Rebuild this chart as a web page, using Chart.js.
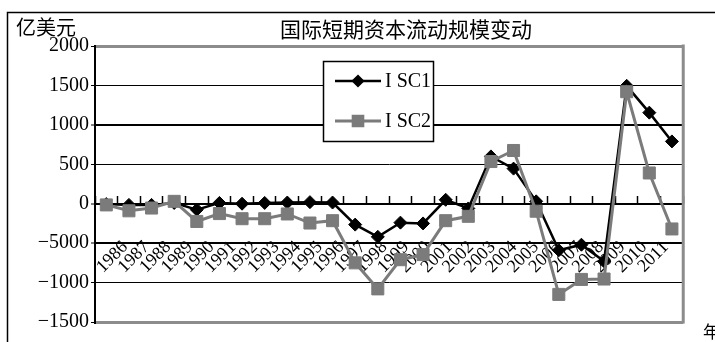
<!DOCTYPE html>
<html>
<head>
<meta charset="utf-8">
<script src="https://cdn.jsdelivr.net/npm/chart.js@4/dist/chart.umd.min.js"></script>
<style>
  html, body { margin: 0; padding: 0; background: #fff; }
  #wrap { width: 715px; height: 342px; }
</style>
</head>
<body>
<div id="wrap"><canvas id="c" width="715" height="342"></canvas></div>
<script>
// Years on the category axis
const years = ['1986','1987','1988','1989','1990','1991','1992','1993','1994','1995',
               '1996','1997','1998','1999','2000','2001','2002','2003','2004','2005',
               '2006','2007','2008','2009','2010','2011'];

// Short-term international capital flows, 100 million USD
const isc1 = [-5, -15, -15, 10, -75, 10, 0, 10, 15, 20,
              15, -265, -420, -240, -250, 50, -60, 600, 445, 30,
              -590, -520, -730, 1495, 1155, 790];
const isc2 = [-15, -90, -55, 30, -225, -125, -190, -190, -130, -245,
              -215, -750, -1080, -710, -645, -215, -160, 535, 675, -95,
              -1150, -960, -955, 1420, 390, -320];

const seriesNames = ['I SC1', 'I SC2'];

// Value axis ticks and the text printed beside them
const yTickValues = [2000, 1500, 1000, 500, 0, -500, -1000, -1500];
const yTickLabels = ['2000', '1500', '1000', '500', '0', '\u22125000', '\u22121000', '\u22121500'];

const chartTitle = '国际短期资本流动规模变动';
const unitLabel = '亿美元';
const axisUnit = '年';

const SERIF = '"Liberation Serif", "DejaVu Serif", serif';
const CJK = '"Noto Sans CJK SC", "Noto Sans", sans-serif';
const GREY = '#7b7b7b';
const EDGE = '#8c8c8c';

// Frame, headings and the boxed legend
const decor = {
  id: 'decor',
  beforeDraw(chart) {
    const ctx = chart.ctx;
    ctx.save();
    ctx.fillStyle = '#fff';
    ctx.fillRect(0, 0, chart.width, chart.height);
    ctx.restore();
  },
  afterDraw(chart) {
    const ctx = chart.ctx;
    const a = chart.chartArea;
    ctx.save();

    // right edge of the plot area
    ctx.strokeStyle = EDGE;
    ctx.lineWidth = 3;
    ctx.beginPath();
    ctx.moveTo(a.right, a.top - 1.5);
    ctx.lineTo(a.right, a.bottom + 1.5);
    ctx.stroke();

    // outer frame
    ctx.strokeStyle = '#000';
    ctx.lineWidth = 1.5;
    ctx.beginPath();
    ctx.moveTo(7.5, chart.height);
    ctx.lineTo(7.5, 12.5);
    ctx.lineTo(chart.width, 12.5);
    ctx.stroke();

    // title and unit captions
    ctx.fillStyle = '#000';
    ctx.textBaseline = 'middle';
    ctx.font = '21px ' + CJK;
    ctx.textAlign = 'center';
    ctx.fillText(chartTitle, 406, 29);
    ctx.textAlign = 'left';
    ctx.font = '20px ' + CJK;
    ctx.fillText(unitLabel, 16, 27);
    ctx.font = '17px ' + CJK;
    ctx.fillText(axisUnit, 703, 332);

    // legend box
    ctx.fillStyle = '#fff';
    ctx.fillRect(323.5, 61.5, 110, 80);
    ctx.strokeStyle = '#000';
    ctx.lineWidth = 1.5;
    ctx.strokeRect(323.5, 61.5, 110, 80);

    const legendMarks = [4.8, 6.8];
    chart.data.datasets.forEach((ds, i) => {
      const y = 81 + i * 40;
      ctx.strokeStyle = ds.borderColor;
      ctx.lineWidth = ds.borderWidth;
      ctx.beginPath();
      ctx.moveTo(335, y);
      ctx.lineTo(381, y);
      ctx.stroke();
      ctx.fillStyle = ds.pointBackgroundColor;
      ctx.strokeStyle = ds.pointBorderColor;
      Chart.helpers.drawPoint(ctx, {
        pointStyle: ds.pointStyle, radius: legendMarks[i], borderWidth: 1, rotation: 0
      }, 358, y);
      ctx.fillStyle = '#000';
      ctx.font = '20px ' + SERIF;
      ctx.textAlign = 'left';
      ctx.textBaseline = 'middle';
      ctx.fillText(ds.label, 385, y + 1);
    });
    ctx.restore();
  }
};

const yGridWidth = v => (v === 2000 || v === -1500) ? 3 : ((v === 0 || v === -500 || v === 1000) ? 2 : 1);
const yGridColor = v => (v === 2000 || v === -1500) ? EDGE : '#000';

new Chart(document.getElementById('c'), {
  type: 'line',
  data: {
    labels: years,
    datasets: [
      {
        label: seriesNames[0],
        data: isc1,
        order: 2,
        borderColor: '#000',
        borderWidth: 2.5,
        pointStyle: 'rectRot',
        pointRadius: 6.5,
        pointBackgroundColor: '#000',
        pointBorderColor: '#000',
        pointBorderWidth: 1,
        tension: 0,
        xAxisID: 'x',
        yAxisID: 'y'
      },
      {
        label: seriesNames[1],
        data: isc2,
        order: 1,
        borderColor: GREY,
        borderWidth: 3,
        pointStyle: 'rect',
        pointRadius: 8.5,
        pointBackgroundColor: GREY,
        pointBorderColor: GREY,
        pointBorderWidth: 1,
        tension: 0,
        xAxisID: 'x',
        yAxisID: 'y'
      }
    ]
  },
  options: {
    responsive: false,
    animation: false,
    devicePixelRatio: 1,
    layout: { padding: { left: 0, top: 46, right: 13, bottom: 20 } },
    plugins: {
      legend: { display: false },
      title: { display: false },
      tooltip: { enabled: false }
    },
    scales: {
      // category axis along the zero line: carries the points and the tick marks
      x: {
        type: 'category',
        position: { y: 0 },
        offset: true,
        border: { display: false },
        grid: {
          display: true,
          offset: true,
          drawOnChartArea: false,
          drawTicks: true,
          tickLength: -8,
          tickColor: '#000',
          tickWidth: 1.5
        },
        ticks: { display: false }
      },
      // year captions hanging below the zero line
      xl: {
        type: 'linear',
        axis: 'x',
        position: { y: 0 },
        min: -1.389,
        max: 25.807,
        afterBuildTicks: s => { s.ticks = years.map((_, i) => ({ value: i })); },
        border: { display: false },
        grid: { display: false, drawTicks: false },
        ticks: {
          autoSkip: false,
          minRotation: 45,
          maxRotation: 45,
          padding: 33,
          color: '#000',
          font: { family: SERIF, size: 18 },
          callback: (v, i) => years[i]
        }
      },
      y: {
        type: 'linear',
        position: 'left',
        min: -1500,
        max: 2000,
        afterFit: s => { s.width = 95; },
        afterBuildTicks: s => { s.ticks = yTickValues.map(v => ({ value: v })); },
        border: { display: true, color: '#000', width: 2 },
        grid: {
          color: c => yGridColor(c.tick.value),
          lineWidth: c => yGridWidth(c.tick.value),
          tickColor: '#000',
          tickWidth: 1,
          tickLength: 4
        },
        ticks: {
          padding: 2,
          color: '#000',
          font: { family: SERIF, size: 20 },
          callback: v => yTickLabels[yTickValues.indexOf(v)]
        }
      }
    }
  },
  plugins: [decor]
});
</script>
</body>
</html>
